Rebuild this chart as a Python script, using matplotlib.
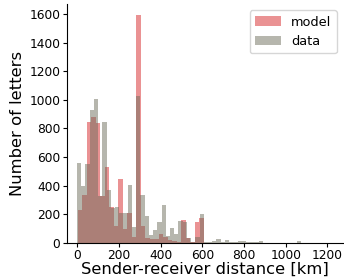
import numpy as np
import matplotlib
matplotlib.use("Agg")
import matplotlib.pyplot as plt

# Model histogram (bin start / width in km, counts per bin)
model_bin_start = 1.6
model_bin_width = 21.6
model_counts = [229, 334, 846, 881, 839, 327, 530, 248, 117, 446,
                93, 208, 37, 1595, 120, 35, 28, 26, 62, 37,
                19, 10, 8, 159, 30, 3, 145, 172]

# Data histogram
data_bin_start = -2.0
data_bin_width = 20.3
data_counts = [558, 397, 551, 930, 1006, 330, 845, 369, 240, 250,
               208, 205, 404, 107, 1027, 334, 187, 54, 87, 145,
               263, 47, 105, 61, 154, 145, 35, 5, 42, 200,
               3, 3, 10, 23, 3, 18, 2, 2, 12, 12,
               2, 2, 2, 12, 0, 0, 0, 0, 0, 0,
               0, 0, 10]

series_labels = ["model", "data"]
x_ticks = [0, 200, 400, 600, 800, 1000, 1200]
y_ticks = [0, 200, 400, 600, 800, 1000, 1200, 1400, 1600]

model_edges = model_bin_start + model_bin_width * np.arange(len(model_counts) + 1)
data_edges = data_bin_start + data_bin_width * np.arange(len(data_counts) + 1)

fig = plt.figure(figsize=(3.44, 2.79), dpi=100)
ax = fig.add_axes([0.194, 0.130, 0.803, 0.856])

ax.hist(model_edges[:-1], bins=model_edges, weights=model_counts,
        color="#d62728", alpha=0.5, label=series_labels[0])
ax.hist(data_edges[:-1], bins=data_edges, weights=data_counts,
        color="#6e6e5c", alpha=0.5, label=series_labels[1])

ax.set_xlim(-51, 1275)
ax.set_ylim(0, 1672)
ax.set_xticks(x_ticks)
ax.set_yticks(y_ticks)
ax.tick_params(labelsize=8.8, length=3, pad=1.5)
ax.spines["top"].set_visible(False)
ax.spines["right"].set_visible(False)
ax.set_xlabel("Sender-receiver distance [km]", fontsize=11.8, labelpad=0)
ax.set_ylabel("Number of letters", fontsize=11.8, labelpad=3)
ax.legend(loc="upper right", fontsize=9.3)

fig.savefig("out.png", dpi=100)
